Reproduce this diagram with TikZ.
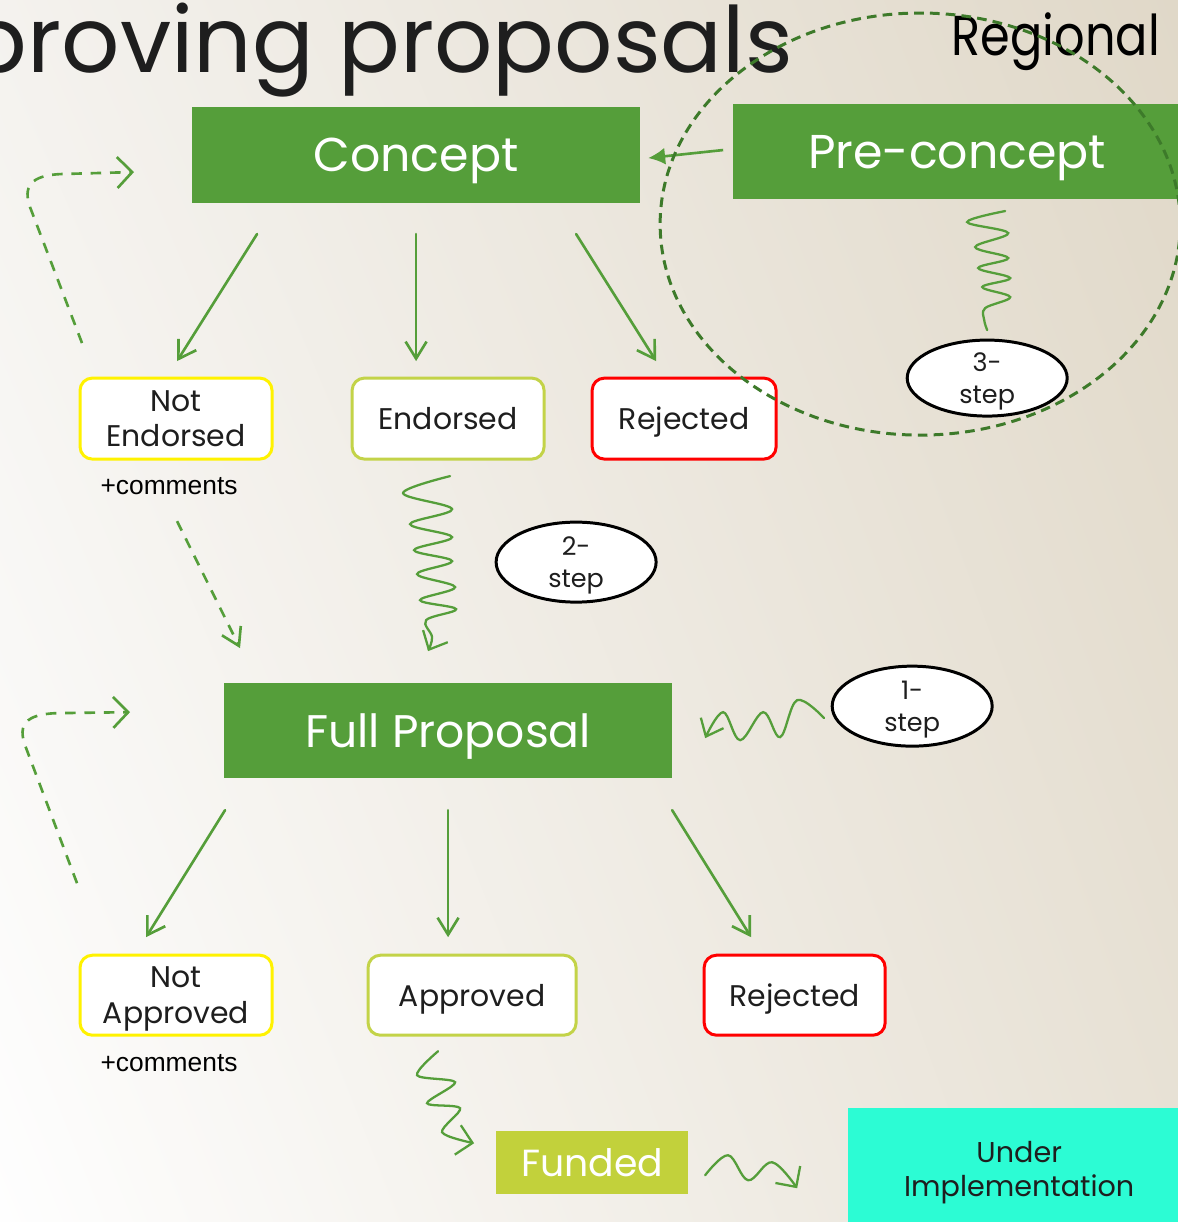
\documentclass[tikz,border=0pt]{standalone}
\usepackage{fontspec}
\setmainfont{Poppins}
\newfontfamily\arialf{Liberation Sans}
\usetikzlibrary{arrows.meta,shapes.geometric,shadings}
\definecolor{gr}{HTML}{559E3A}
\definecolor{dgr}{HTML}{3D7A2A}
\definecolor{yel}{HTML}{FFF200}
\definecolor{oli}{HTML}{C3D348}
\definecolor{fund}{HTML}{C2D13B}
\definecolor{teal}{HTML}{2CFCD4}
\definecolor{txt}{HTML}{1E1E1E}
\definecolor{bgA}{HTML}{F4F2EE}
\definecolor{bgB}{HTML}{E0D8C8}
\definecolor{bgC}{HTML}{FEFEFE}
\definecolor{bgD}{HTML}{E8E2D6}
\tikzset{
  gbox/.style={fill=gr, text=white, inner sep=0pt, text depth=0pt, font=\fontsize{27}{32}\selectfont},
  obox/.style={draw, line width=1.7pt, rounded corners=7pt, fill=white, text=txt, align=center,
     inner sep=0pt, text depth=0pt, minimum height=1.62cm, font=\fontsize{17}{20.4}\selectfont},
  ell/.style={ellipse, draw=black, line width=1.7pt, fill=white, text=txt, align=center,
     inner sep=0pt, text depth=0pt, minimum width=3.2cm, minimum height=1.6cm, font=\fontsize{14.5}{18}\selectfont},
  garrow/.style={draw=gr, line width=1.5pt, line cap=round, -{Straight Barb[length=0.34cm, width=0.42cm, line width=1.5pt]}},
  squig/.style={draw=gr, line width=1.3pt, line cap=round},
  dasharrow/.style={draw=gr, line width=1.5pt, dash pattern=on 6pt off 5pt},
  cmt/.style={font=\arialf\fontsize{15}{18}\selectfont, text=black, inner sep=0pt}
}
\begin{document}
\begin{tikzpicture}[x=0.02cm, y=-0.02cm]
\useasboundingbox (0cm,0cm) rectangle (23.56cm,-24.44cm);
\clip (0cm,0cm) rectangle (23.56cm,-24.44cm);
\shade[upper left=bgA, upper right=bgB, lower left=bgC, lower right=bgD] (0cm,0cm) rectangle (23.56cm,-24.44cm);

% titles
\node[anchor=base east, inner sep=0pt, text=txt, font=\fontsize{52}{58}\selectfont] (title) at (793,72) {proving proposals};
\node[anchor=base east, inner sep=0pt, text=black, xscale=0.85, font=\fontsize{32}{36}\selectfont] (regional) at (1160,55) {Regional};

% green boxes
\node[gbox, minimum width=8.96cm, minimum height=1.92cm] (concept) at (416,155) {Concept};
\node[gbox, minimum width=8.96cm, minimum height=1.9cm] (pre) at (957,151.5) {Pre-concept};
\node[gbox, minimum width=8.96cm, minimum height=1.9cm, font=\fontsize{26}{31}\selectfont] (full) at (448,730.5) {Full Proposal};

% outcome boxes
\node[obox, draw=yel, minimum width=3.84cm] (notend) at (176,418.5) {Not\\Endorsed};
\node[obox, draw=oli, minimum width=3.84cm] (endorsed) at (448,418.5) {Endorsed};
\node[obox, draw=red, minimum width=3.68cm] (rej1) at (684,418.5) {Rejected};
\node[obox, draw=yel, minimum width=3.84cm, minimum height=1.6cm] (notapp) at (176,995) {Not\\Approved};
\node[obox, draw=oli, minimum width=4.16cm, minimum height=1.6cm] (approved) at (472,995) {Approved};
\node[obox, draw=red, minimum width=3.62cm, minimum height=1.6cm] (rej2) at (794.5,995) {Rejected};

\node[cmt] (cm1) at (169,486) {+comments};
\node[cmt] (cm2) at (169,1063) {+comments};

% funded / implementation
\node[fill=fund, text=white, inner sep=0pt, text depth=0pt, minimum width=3.84cm, minimum height=1.26cm, font=\fontsize{21.5}{26}\selectfont] (funded) at (592,1162.5) {Funded};
\node[fill=teal, text=txt, inner sep=0pt, text depth=0pt, align=center, minimum width=6.84cm, minimum height=2.44cm, font=\fontsize{16.3}{19.3}\selectfont] (impl) at (1019,1169) {Under\\Implementation};

% step ellipses
\node[ell] (s2) at (576,562) {2-\\step};
\node[ell] (s1) at (912,706) {1-\\step};
\node[ell, minimum height=1.52cm] (s3) at (987,378) {3-\\step};

% connector end points
\coordinate (c1a) at (257,234); \coordinate (c1b) at (177,361);
\coordinate (c2a) at (416,234); \coordinate (c2b) at (416,361);
\coordinate (c3a) at (576,234); \coordinate (c3b) at (656,361);
\coordinate (f1a) at (225,810); \coordinate (f1b) at (146,937);
\coordinate (f2a) at (448,810); \coordinate (f2b) at (448,937);
\coordinate (f3a) at (672,810); \coordinate (f3b) at (751,937);
\coordinate (pa) at (723,150); \coordinate (pb) at (648,158);
\coordinate (da) at (177,521); \coordinate (db) at (240,648);

\draw[garrow] (c1a) -- (c1b);
\draw[garrow] (c2a) -- (c2b);
\draw[garrow] (c3a) -- (c3b);
\draw[garrow] (f1a) -- (f1b);
\draw[garrow] (f2a) -- (f2b);
\draw[garrow] (f3a) -- (f3b);
\draw[draw=gr, line width=1.5pt, -{Latex[length=0.34cm, width=0.34cm]}] (pa) -- (pb);

% dashed arrows
\draw[dasharrow, -{Straight Barb[length=0.34cm, width=0.42cm, line width=1.5pt]}] (da) -- (db);
\coordinate (l1a) at (82,343); \coordinate (l1b) at (134,172);
\draw[dasharrow, -{Straight Barb[length=0.3cm, width=0.62cm, line width=1.5pt]}] (l1a) -- (30,207) .. controls (23,187) and (30,175) .. (62,174) -- (l1b);
\coordinate (l2a) at (77,883); \coordinate (l2b) at (130,712);
\draw[dasharrow, -{Straight Barb[length=0.3cm, width=0.62cm, line width=1.5pt]}] (l2a) -- (25,745) .. controls (18,725) and (25,714) .. (57,713) -- (l2b);

% squiggles
\draw[squig, -{Straight Barb[length=0.3cm, width=0.55cm, line width=1.3pt]}] plot[smooth, tension=0.6] coordinates
 {(450,476) (403,493) (452,509) (410,524) (452,537) (414,550) (452,561) (417,574) (455,587) (420,600) (456,609) (426,620) (432,637) (428,651)};
\draw[squig] plot[smooth, tension=0.6] coordinates
 {(1005,211) (967,222) (1008,233) (975,247) (1008,258) (978,268) (1010,278) (982,287) (1010,297) (985,308) (984,320) (987,330)};
\draw[squig, -{Straight Barb[length=0.3cm, width=0.5cm, line width=1.3pt]}] plot[smooth, tension=0.6] coordinates
 {(824,718) (797,700) (780,737) (763,712) (740,740) (723,712) (705,738)};
\draw[squig, -{Straight Barb[length=0.3cm, width=0.6cm, line width=1.3pt]}] plot[smooth, tension=0.5] coordinates
 {(438,1051) (417,1075) (455,1082) (427,1103) (460,1108) (442,1132) (474,1143)};
\draw[squig, -{Straight Barb[length=0.3cm, width=0.6cm, line width=1.3pt]}] plot[smooth, tension=0.6] coordinates
 {(705,1175) (728,1155) (748,1180) (772,1162) (797,1188)};

% regional dashed ellipse
\draw[draw=dgr, line width=1.7pt, dash pattern=on 5.5pt off 3.5pt] (920,224) ellipse [x radius=260, y radius=211];
\end{tikzpicture}
\end{document}
